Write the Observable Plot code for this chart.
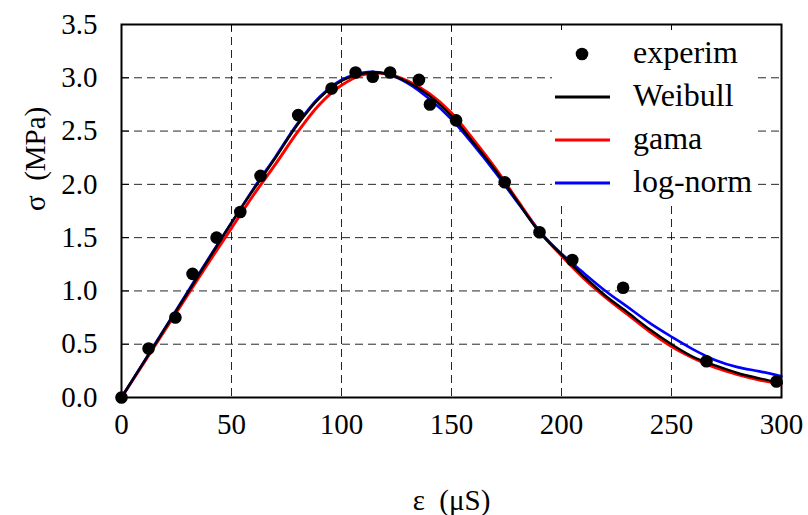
<!DOCTYPE html>
<html>
<head>
<meta charset="utf-8">
<script src="https://cdn.jsdelivr.net/npm/d3@7"></script>
<script src="https://cdn.jsdelivr.net/npm/@observablehq/plot@0.6"></script>
<style>
  html, body { margin: 0; padding: 0; background: #fff; }
  #wrap { position: relative; width: 808px; height: 515px; font-family: 'Liberation Serif', serif; }
  #wrap svg text { font-family: 'Liberation Serif', serif; }
  #legend { position: absolute; left: 552px; top: 30px; width: 205px; height: 176px; background: #fff; }
  .row { position: absolute; left: 0; height: 40px; width: 205px; }
  .row svg { position: absolute; left: 0; top: 0; }
  .row span { position: absolute; left: 81px; top: 50%; transform: translateY(-55%); font-size: 32px; line-height: 1; color: #000; white-space: nowrap; font-family: 'Liberation Serif', serif; }
</style>
</head>
<body>
<div id="wrap"></div>
<script>
// experimental points
const expX = [0, 12.3, 24.5, 32.3, 43.2, 54, 63.2, 80.3, 95.5, 106.4, 114.2, 122.1, 135.2, 140.2, 152.1, 174.2, 190, 204.9, 228, 265.9, 297.7];
const expY = [0, 0.46, 0.75, 1.16, 1.50, 1.74, 2.08, 2.65, 2.90, 3.05, 3.01, 3.05, 2.98, 2.75, 2.60, 2.02, 1.55, 1.29, 1.03, 0.34, 0.15];

// fitted curves
const curveX = [0, 10, 20, 30, 40, 50, 60, 70, 80, 90, 100, 110, 120, 130, 140, 150, 160, 170, 180, 190, 200, 210, 220, 230, 240, 250, 260, 270, 280, 290, 300];
const weibullY = [0, 0.327, 0.655, 0.98, 1.31, 1.64, 1.95, 2.25, 2.56, 2.81, 2.97, 3.04, 3.04, 2.96, 2.83, 2.64, 2.39, 2.13, 1.84, 1.55, 1.34, 1.14, 0.955, 0.80, 0.64, 0.50, 0.38, 0.30, 0.23, 0.18, 0.135];
const gamaY    = [0, 0.32, 0.64, 0.96, 1.28, 1.59, 1.90, 2.19, 2.49, 2.75, 2.93, 3.03, 3.04, 2.97, 2.85, 2.67, 2.42, 2.15, 1.85, 1.56, 1.33, 1.12, 0.94, 0.78, 0.62, 0.48, 0.37, 0.28, 0.215, 0.165, 0.13];
const lognormY = [0, 0.33, 0.66, 0.99, 1.32, 1.64, 1.96, 2.26, 2.57, 2.82, 2.98, 3.05, 3.04, 2.95, 2.80, 2.61, 2.37, 2.11, 1.83, 1.56, 1.35, 1.17, 1.00, 0.85, 0.70, 0.57, 0.45, 0.35, 0.285, 0.245, 0.20];

const xTicks = [0, 50, 100, 150, 200, 250, 300];
const yTicks = [0, 0.5, 1.0, 1.5, 2.0, 2.5, 3.0, 3.5];
const seriesNames = ["experim", "Weibull", "gama", "log-norm"];
const seriesColors = ["#000000", "#000000", "#ff0000", "#0000ff"];
const xLabel = "ε \u00A0(μS)";
const yLabel = "σ \u00A0(MPa)";

const pts = expX.map((x, i) => ({x, y: expY[i]}));
const mk = ys => curveX.map((x, i) => ({x, y: ys[i]}));
const weib = mk(weibullY), gam = mk(gamaY), lgn = mk(lognormY);

const chart = Plot.plot({
  width: 808,
  height: 515,
  marginLeft: 121,
  marginRight: 27,
  marginTop: 24,
  marginBottom: 118,
  style: {fontFamily: "'Liberation Serif', serif", fontSize: "29px", color: "#000", background: "#fff", overflow: "visible"},
  x: {domain: [0, 300]},
  y: {domain: [0, 3.5]},
  marks: [
    Plot.gridX(xTicks.slice(1, -1), {stroke: "#000", strokeOpacity: 0.85, strokeWidth: 1, strokeDasharray: "8,5"}),
    Plot.gridY(yTicks.slice(1, -1), {stroke: "#000", strokeOpacity: 0.85, strokeWidth: 1, strokeDasharray: "8,5"}),
    Plot.axisX(xTicks, {anchor: "bottom", tickSize: 0, tickPadding: 16, label: null, fontSize: 29}),
    Plot.axisX(xTicks, {anchor: "top", tickSize: -6, text: null, label: null}),
    Plot.axisY(yTicks, {anchor: "left", tickSize: 0, tickPadding: 24, tickFormat: d3.format(".1f"), label: null, fontSize: 29}),
    Plot.axisY(yTicks, {anchor: "left", tickSize: -8, text: null, label: null}),
    Plot.line(gam, {x: "x", y: "y", stroke: seriesColors[2], strokeWidth: 3, curve: "catmull-rom"}),
    Plot.line(lgn, {x: "x", y: "y", stroke: seriesColors[3], strokeWidth: 2.6, curve: "catmull-rom"}),
    Plot.line(weib, {x: "x", y: "y", stroke: seriesColors[1], strokeWidth: 2.4, curve: "catmull-rom"}),
    Plot.dot(pts, {x: "x", y: "y", r: 6.3, fill: "#000", stroke: "none"}),
    Plot.frame({stroke: "#000", strokeWidth: 2}),
    Plot.text([xLabel], {frameAnchor: "bottom", dy: 112, fontSize: 29, text: d => d}),
    Plot.text([yLabel], {frameAnchor: "left", dx: -86, rotate: -90, fontSize: 29, text: d => d})
  ]
});

const wrap = document.getElementById("wrap");
wrap.appendChild(chart);

// legend (inside plot, upper right)
const legend = document.createElement("div");
legend.id = "legend";
const rowTops = [4, 47, 90, 133];
seriesNames.forEach((name, i) => {
  const row = document.createElement("div");
  row.className = "row";
  row.style.top = rowTops[i] + "px";
  const sym = i === 0
    ? `<svg width="70" height="40"><circle cx="30" cy="20" r="6.3" fill="#000"/></svg>`
    : `<svg width="70" height="40"><line x1="3" x2="58" y1="20" y2="20" stroke="${seriesColors[i]}" stroke-width="3"/></svg>`;
  row.innerHTML = sym + `<span>${name}</span>`;
  legend.appendChild(row);
});
wrap.appendChild(legend);
</script>
</body>
</html>
